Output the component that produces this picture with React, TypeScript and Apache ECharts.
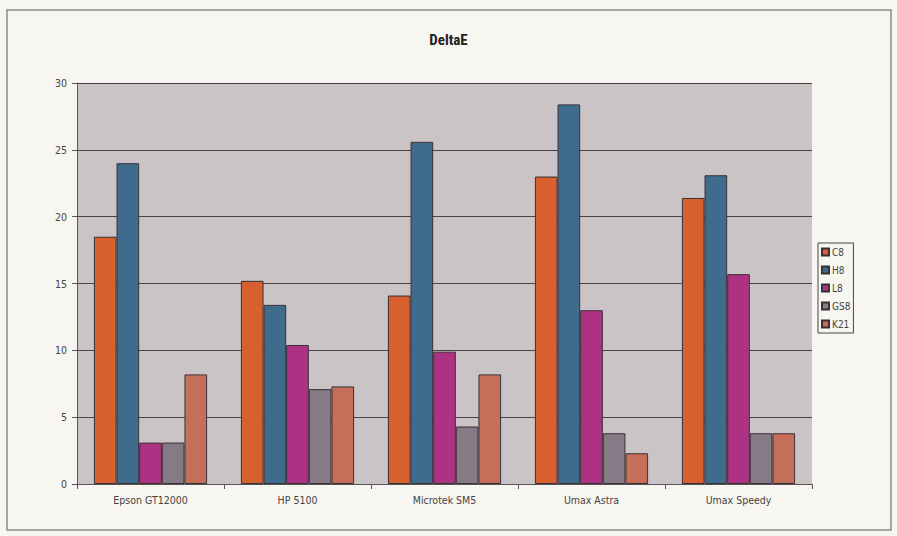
import React, { useEffect, useRef } from "react";
import * as echarts from "echarts";

const categories = ["Epson GT12000", "HP 5100", "Microtek SM5", "Umax Astra", "Umax Speedy"];
const seriesNames = ["C8", "H8", "L8", "GS8", "K21"];
const c8 = [18.5, 15.2, 14.1, 23.0, 21.4];
const h8 = [24.0, 13.4, 25.6, 28.4, 23.1];
const l8 = [3.1, 10.4, 9.9, 13.0, 15.7];
const gs8 = [3.1, 7.1, 4.3, 3.8, 3.8];
const k21 = [8.2, 7.3, 8.2, 2.3, 3.8];
const colors = ["#d8602f", "#3f6c8c", "#ad3284", "#857b87", "#c56f5a"];

export default function App() {
  const ref = useRef<HTMLDivElement>(null);
  useEffect(() => {
    if (!ref.current) return;
    const chart = echarts.init(ref.current, undefined, { renderer: "svg" });
    const data = [c8, h8, l8, gs8, k21];
    chart.setOption({
      animation: false,
      backgroundColor: "#f8f6f0",
      title: {
        text: "DeltaE",
        left: "center",
        top: 27,
        textStyle: { fontFamily: "Liberation Sans Narrow, Roboto Condensed, Arial", fontSize: 15, fontWeight: "bold", color: "#222" },
      },
      graphic: [
        {
          type: "rect",
          shape: { x: 7, y: 10, width: 884, height: 520 },
          style: { fill: "none", stroke: "#8a8a90", lineWidth: 1.5 },
          silent: true,
          z: -1,
        },
      ],
      legend: {
        orient: "vertical",
        left: 818,
        top: 243,
        itemWidth: 7,
        itemHeight: 7,
        itemGap: 8,
        padding: [4, 3, 4, 3],
        borderColor: "#444",
        borderWidth: 1,
        backgroundColor: "#f8f6f0",
        icon: "rect",
        textStyle: { fontSize: 10, color: "#444", padding: [0, 0, 0, -2], fontFamily: "DejaVu Sans Condensed, sans-serif" },
        data: seriesNames,
      },
      grid: { left: 77, top: 83, width: 735, height: 401, backgroundColor: "#cbc4c7", show: true, borderWidth: 0 },
      xAxis: {
        type: "category",
        data: categories,
        axisLine: { lineStyle: { color: "#555", width: 1 } },
        axisTick: { show: true, alignWithLabel: false, length: 5, lineStyle: { color: "#555" } },
        axisLabel: { color: "#444", fontSize: 10.5, margin: 10, fontFamily: "DejaVu Sans Condensed, sans-serif" },
      },
      yAxis: {
        type: "value",
        min: 0,
        max: 30,
        interval: 5,
        axisLine: { show: true, lineStyle: { color: "#555", width: 1 } },
        axisTick: { show: true, length: 5, lineStyle: { color: "#555" } },
        axisLabel: { color: "#444", fontSize: 10.5, margin: 10, fontFamily: "DejaVu Sans Condensed, sans-serif" },
        splitLine: { lineStyle: { color: "#4a4448", width: 1.2 } },
      },
      series: seriesNames.map((name, i) => ({
        name,
        type: "bar",
        data: data[i],
        barGap: "0%",
        barCategoryGap: "23%",
        itemStyle: { color: colors[i], borderColor: "#3a3035", borderWidth: 1 },
      })),
    });
    return () => chart.dispose();
  }, []);
  return <div ref={ref} style={{ position: "fixed", left: 0, top: 0, width: 897, height: 536 }} />;
}
